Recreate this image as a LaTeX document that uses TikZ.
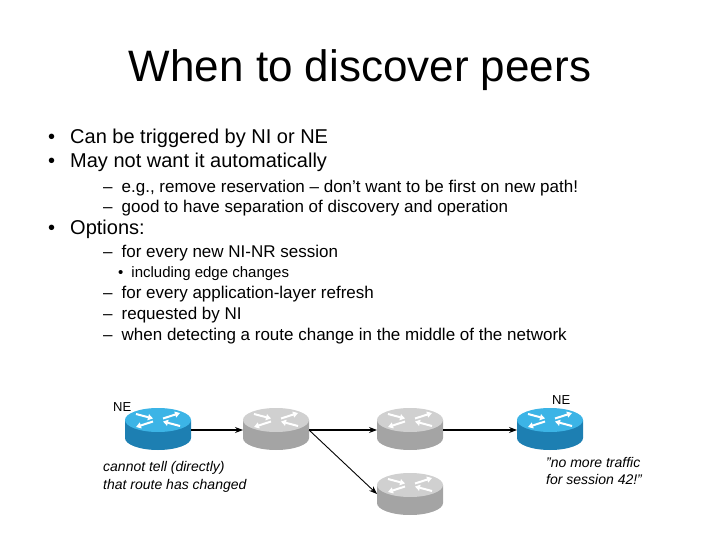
\documentclass[tikz,border=0pt]{standalone}
\usepackage{fontspec}
\setmainfont{Liberation Sans}
\usetikzlibrary{arrows.meta}
\definecolor{btop}{HTML}{3CB4E6}
\definecolor{bside}{HTML}{1D7FB2}
\definecolor{gtop}{HTML}{D0D0D0}
\definecolor{gside}{HTML}{A4A4A4}
\tikzset{
  txt/.style={anchor=base west,inner sep=0pt},
  conn/.style={-{Stealth[length=8pt,width=6pt]},line width=1.1pt},
  pics/router/.style 2 args={code={
    \fill[#2] (-33,0) -- (-33,18) arc[start angle=180,end angle=0,x radius=33,y radius=12] -- (33,0) -- cycle;
    \fill[#1] (0,0) ellipse[x radius=33,y radius=12];
    \begin{scope}[white,line width=2pt,-{Triangle[length=5pt,width=6pt]}]
      \draw (-22,-6) -- (-5,-1.5);
      \draw (22,6) -- (5,1.5);
      \draw (5,-1.5) -- (22,-7);
      \draw (-5,1.5) -- (-22,7);
    \end{scope}
  }}
}
\begin{document}
\begin{tikzpicture}[x=1pt,y=-1pt]
\useasboundingbox (0,0) rectangle (720,540);
\node (title) at (360,70) {\fontsize{44}{50}\selectfont When to discover peers};
\node[txt] (b1d) at (48,144) {\fontsize{20}{24}\selectfont •};
\node[txt] (b1) at (70,144) {\fontsize{20}{24}\selectfont Can be triggered by NI or NE};
\node[txt] (b2d) at (48,168) {\fontsize{20}{24}\selectfont •};
\node[txt] (b2) at (70,168) {\fontsize{20}{24}\selectfont May not want it automatically};
\node[txt] (s1) at (103,193) {\fontsize{17}{20}\selectfont –\hspace{9pt}e.g., remove reservation – don’t want to be first on new path!};
\node[txt] (s2) at (103,213) {\fontsize{17}{20}\selectfont –\hspace{9pt}good to have separation of discovery and operation};
\node[txt] (b3d) at (48,235) {\fontsize{20}{24}\selectfont •};
\node[txt] (b3) at (70,235) {\fontsize{20}{24}\selectfont Options:};
\node[txt] (o1) at (103,257) {\fontsize{17}{20}\selectfont –\hspace{9pt}for every new NI-NR session};
\node[txt] (o1a) at (118,277) {\fontsize{15}{17}\selectfont •\hspace{8pt}including edge changes};
\node[txt] (o2) at (103,298) {\fontsize{17}{20}\selectfont –\hspace{9pt}for every application-layer refresh};
\node[txt] (o3) at (103,319) {\fontsize{17}{20}\selectfont –\hspace{9pt}requested by NI};
\node[txt] (o4) at (103,340) {\fontsize{17}{20}\selectfont –\hspace{9pt}when detecting a route change in the middle of the network};

\pic at (158,420) {router={btop}{bside}};
\pic at (276,420) {router={gtop}{gside}};
\pic at (410,420) {router={gtop}{gside}};
\pic at (550,420) {router={btop}{bside}};
\pic at (410,485) {router={gtop}{gside}};
\coordinate (r1) at (191,430);
\coordinate (r2l) at (243,430);
\coordinate (r2r) at (309,430);
\coordinate (r3l) at (377,430);
\coordinate (r3r) at (443,430);
\coordinate (r4l) at (517,430);
\coordinate (r5l) at (377,494);
\draw[conn] (r1) -- (r2l);
\draw[conn] (r2r) -- (r3l);
\draw[conn] (r3r) -- (r4l);
\draw[conn,line width=0.9pt] (r2r) -- (r5l);

\node[txt] (ne1) at (113,411) {\fontsize{13}{15}\selectfont NE};
\node[txt] (ne2) at (552,404) {\fontsize{13}{15}\selectfont NE};
\node[txt] (c1) at (103,471) {\fontsize{14}{16}\selectfont\itshape cannot tell (directly)};
\node[txt] (c2) at (103,489) {\fontsize{14}{16}\selectfont\itshape that route has changed};
\node[txt] (n1) at (546,467) {\fontsize{14}{16}\selectfont\itshape "no more traffic};
\node[txt] (n2) at (546,484) {\fontsize{14}{16}\selectfont\itshape for session 42!"};
\end{tikzpicture}
\end{document}
